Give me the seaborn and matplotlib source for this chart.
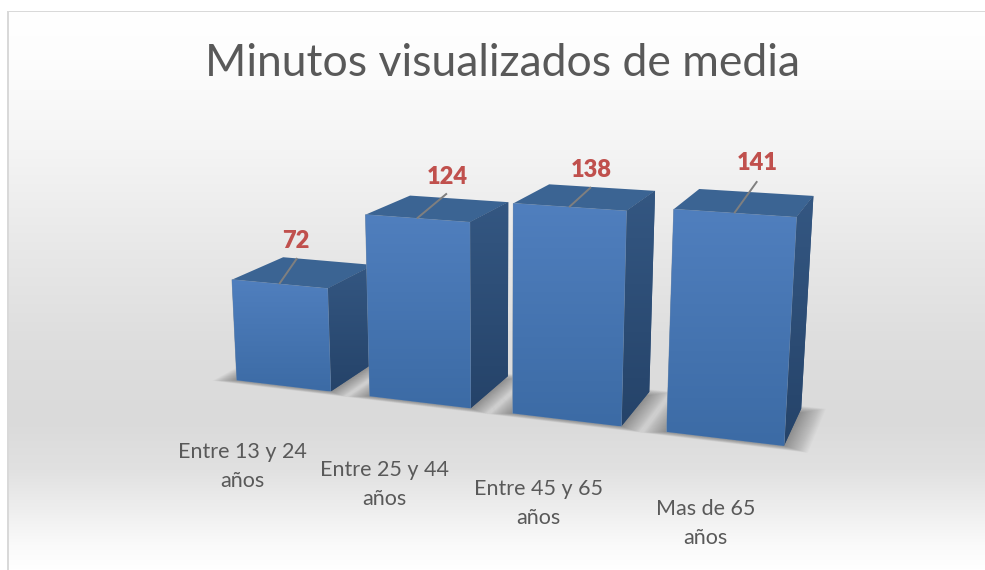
import numpy as np
import pandas as pd
import matplotlib
matplotlib.use("Agg")
import matplotlib.pyplot as plt
from matplotlib.patches import Polygon, Rectangle
from matplotlib.transforms import Transform
import seaborn as sns

# ---- data
title = "Minutos visualizados de media"
categories = ["Entre 13 y 24\naños", "Entre 25 y 44\naños", "Entre 45 y 65\naños", "Mas de 65\naños"]
values = [72, 124, 138, 141]

# ---- layout / styling
CAMERA = np.array([
    [121.5824146668342, -12.857389579141255 / 100, 70.44633500854205, 283.1922376511665],
    [2.2164835118344097, -148.5782560083234 / 100, -4.569706528417626, 385.74440974828974],
    [-0.03519827897116734, -0.025947277512034628 / 100, 0.06899902607545005, 1.0],
])
BAR_WIDTH = 0.714
LABEL_OFFSETS = [(-41, 81), (-35, 82), (-28, 84), (-19, 85)]
LEADER_OFFSETS = [(18, -26), (30, -25), (22, -20), (23, -32)]
VALUE_OFFSETS = [(17, -43), (30, -41), (22, -37), (23, -50)]
BG_STOPS_Y = [11, 60, 150, 250, 340, 420, 470, 510, 545, 570]
BG_STOPS_V = [255, 253, 244, 232, 222, 218, 225, 238, 250, 255]

sns.set_style("white")
plt.rcParams["font.family"] = ["Lato", "DejaVu Sans"]


def project(x, y, z):
    h = CAMERA @ np.array([x, y, z, 1.0])
    return h[0] / h[2], h[1] / h[2]


class Camera(Transform):
    """Perspective projection of the (category, value) plane at depth z to pixels."""
    input_dims = 2
    output_dims = 2
    is_separable = False
    has_inverse = False

    def __init__(self, z=0.0):
        super().__init__()
        self.z = z

    def transform_non_affine(self, values):
        v = np.asarray(values, float)
        h = np.column_stack([v[:, 0], v[:, 1], np.full(len(v), self.z), np.ones(len(v))]) @ CAMERA.T
        return h[:, :2] / h[:, 2:3]


def gradient(c0, c1, n=128):
    t = np.linspace(0, 1, n)[:, None, None]
    return (np.array(c0)[None, None, :] * (1 - t) + np.array(c1)[None, None, :] * t) / 255.0


fig = plt.figure(figsize=(9.85, 5.7), dpi=100)
ax = fig.add_axes([0, 0, 1, 1])
df = pd.DataFrame({"grupo": categories, "minutos": values})
sns.barplot(data=df, x="grupo", y="minutos", ax=ax, width=BAR_WIDTH, color="#4472a8",
            saturation=1, linewidth=0, legend=False)
bars = list(ax.patches)

ax.set_autoscale_on(False)
ax.set_xlim(0, 985)
ax.set_ylim(570, 0)
ax.set_axis_off()

# background
ys = np.arange(11, 571)
bg = np.interp(ys, BG_STOPS_Y, BG_STOPS_V)[:, None, None].repeat(3, axis=2) / 255.0
ax.imshow(bg, extent=(8, 985, 570, 11), aspect="auto", zorder=0, interpolation="bilinear")
ax.add_patch(Rectangle((7, 11), 1.7, 559, fc="#d9d9d9", ec="none", zorder=1))
ax.add_patch(Rectangle((7, 11), 978, 1.2, fc="#d9d9d9", ec="none", zorder=1))

ax.text(502.5, 64, title, fontsize=32, color="#595959", ha="center", va="center", zorder=50)

# soft floor shadows
for bar in bars:
    x0, x1 = bar.get_x(), bar.get_x() + bar.get_width()
    for e in np.linspace(0.15, 0.0, 24):
        ex = e
        ez = e * 1.3
        pts = [project(x0 - ex, 0, 1 + ez - 0.12), project(x1 + ex, 0, 1 + ez - 0.12),
               project(x1 + ex, 0, -ez * 0.5), project(x0 - ex, 0, -ez * 0.5)]
        ax.add_patch(Polygon(pts, fc="black", ec="none", alpha=0.014, zorder=2))

for i, bar in enumerate(bars):
    base = 10 + i * 5
    x0, x1 = bar.get_x(), bar.get_x() + bar.get_width()
    v = bar.get_height()

    # top face
    top = [project(x0, v, 0), project(x1, v, 0), project(x1, v, 1), project(x0, v, 1)]
    ax.add_patch(Polygon(top, fc="#3b6493", ec="none", zorder=base))

    # right face
    side = [project(x1, v, 0), project(x1, v, 1), project(x1, 0, 1), project(x1, 0, 0)]
    side_poly = Polygon(side, fc="#2d4f78", ec="none", zorder=base + 0.1)
    ax.add_patch(side_poly)
    sx, sy = zip(*side)
    im = ax.imshow(gradient((52, 87, 130), (37, 67, 105)), aspect="auto",
                   extent=(min(sx), max(sx), max(sy), min(sy)), zorder=base + 0.2)
    im.set_clip_path(side_poly)

    # front face: the seaborn bar itself, seen through the camera
    bar.set_transform(Camera(0.0) + ax.transData)
    bar.set_zorder(base + 0.3)
    bar.set_clip_on(False)
    bar.set_edgecolor("#7f93ab")
    bar.set_linewidth(0.5)
    front = [project(x0, v, 0), project(x1, v, 0), project(x1, 0, 0), project(x0, 0, 0)]
    fx, fy = zip(*front)
    im = ax.imshow(gradient((80, 127, 190), (60, 107, 165)), aspect="auto",
                   extent=(min(fx), max(fx), max(fy), min(fy)), zorder=base + 0.4)
    im.set_clip_path(bar.get_path(), bar.get_transform())

    # leader line and value label
    cx = bar.get_x() + bar.get_width() / 2
    px, py = project(cx, v, 0)
    lx, ly = LEADER_OFFSETS[i]
    ax.plot([px, px + lx], [py, py + ly], color="#7f7f7f", lw=1.4, zorder=base + 0.5,
            solid_capstyle="butt")
    ox, oy = VALUE_OFFSETS[i]
    ax.text(px + ox, py + oy, f"{values[i]}", color="#c0504d", fontsize=17, fontweight="heavy",
            ha="center", va="center", zorder=50)

    # category label
    fx0, fy0 = project(cx, 0, 0)
    ox, oy = LABEL_OFFSETS[i]
    ax.text(fx0 + ox, fy0 + oy, categories[i], color="#595959", fontsize=15.5,
            ha="center", va="center", linespacing=1.55, zorder=50)

fig.savefig("out.png", dpi=100)
